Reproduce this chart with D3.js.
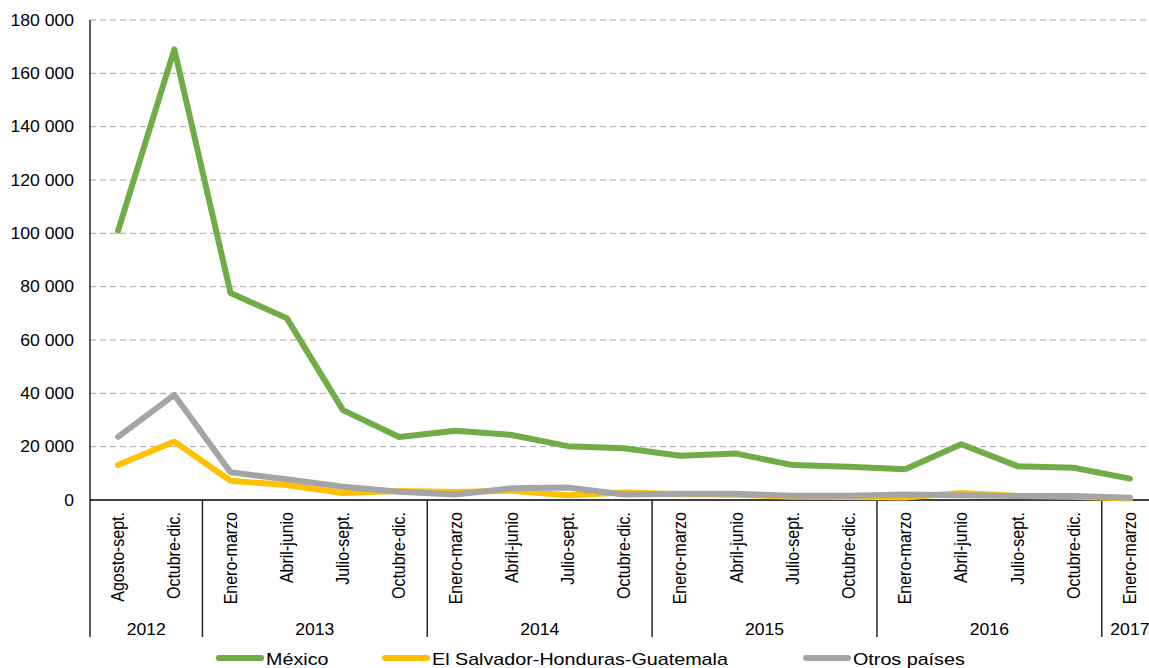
<!DOCTYPE html>
<html>
<head>
<meta charset="utf-8">
<script src="https://cdn.jsdelivr.net/npm/d3@7"></script>
<style>
  body { margin: 0; background: #fff; }
  text { font-family: "Liberation Sans", Arial, sans-serif; fill: #000; }
</style>
</head>
<body>
<svg id="chart" width="1149" height="668"></svg>
<script>
// Quarters and the year each belongs to
var quarters = ["Agosto-sept.", "Octubre-dic.",
  "Enero-marzo", "Abril-junio", "Julio-sept.", "Octubre-dic.",
  "Enero-marzo", "Abril-junio", "Julio-sept.", "Octubre-dic.",
  "Enero-marzo", "Abril-junio", "Julio-sept.", "Octubre-dic.",
  "Enero-marzo", "Abril-junio", "Julio-sept.", "Octubre-dic.",
  "Enero-marzo"];
var years = ["2012", "2013", "2014", "2015", "2016", "2017"];
var yearCounts = [2, 4, 4, 4, 4, 1];

var mexico = [101000, 169000, 77600, 68200, 33700, 23600, 26000, 24400, 20200, 19400,
  16600, 17400, 13100, 12500, 11500, 20900, 12700, 12100, 8000];
var salvador = [13100, 21900, 7200, 5600, 2600, 3400, 3000, 3500, 1800, 2800,
  2200, 2000, 1200, 1100, 900, 2600, 1500, 1200, 600];
var otros = [23700, 39400, 10400, 7800, 5000, 3100, 2100, 4400, 4700, 2100,
  2300, 2300, 1600, 1600, 2100, 1800, 1500, 1500, 800];

var seriesNames = ["México", "El Salvador-Honduras-Guatemala", "Otros países"];
var seriesColors = ["#70AD47", "#FFC000", "#A5A5A5"];
var yTicks = d3.range(0, 180001, 20000);

var svg = d3.select("#chart");
var mLeft = 90, mRight = 1158, mTop = 20, mBottom = 500;

var x = d3.scaleBand().domain(d3.range(quarters.length)).range([mLeft, mRight]);
var y = d3.scaleLinear().domain([0, 180000]).range([mBottom, mTop]);

function fmt(v) {
    return d3.format(",")(v).replace(/,/g, " ");
}

// horizontal text, slightly widened like the original
function hText(px, py, str, size, anchor, stretch) {
    return svg.append("text")
        .attr("transform", "translate(" + px + "," + py + ") scale(" + (stretch || 1.1) + ",1)")
        .attr("text-anchor", anchor || "start")
        .style("font-size", size + "px")
        .text(str);
}

// gridlines
svg.append("g").selectAll("line")
    .data(yTicks.filter(function(d) { return d > 0; }))
    .enter().append("line")
    .attr("x1", mLeft).attr("x2", 1149)
    .attr("y1", function(d) { return y(d); })
    .attr("y2", function(d) { return y(d); })
    .attr("stroke", "#A6A6A6")
    .attr("stroke-width", 1)
    .attr("stroke-dasharray", "6,4");

// y tick labels
yTicks.forEach(function(t) {
    hText(74, y(t), fmt(t), 16, "end").attr("dy", "0.35em");
});

svg.append("line")
    .attr("x1", mLeft).attr("x2", mLeft)
    .attr("y1", mTop).attr("y2", 637)
    .attr("stroke", "#262626").attr("stroke-width", 1.5);

// x baseline
svg.append("line")
    .attr("x1", mLeft).attr("x2", 1149)
    .attr("y1", mBottom).attr("y2", mBottom)
    .attr("stroke", "#000").attr("stroke-width", 1.5);

// quarter labels
svg.append("g").selectAll("text")
    .data(quarters)
    .enter().append("text")
    .attr("transform", function(d, i) {
        return "translate(" + (x(i) + x.bandwidth() / 2) + ",512) rotate(-90) scale(1,1.1)";
    })
    .attr("text-anchor", "end")
    .attr("dy", "0.35em")
    .style("font-size", "16px")
    .text(function(d) { return d; });

// year groups
var start = 0;
years.forEach(function(yr, k) {
    var n = yearCounts[k];
    var x0 = x(start), x1 = x(start + n - 1) + x.bandwidth();
    if (k > 0) {
        svg.append("line")
            .attr("x1", x0).attr("x2", x0)
            .attr("y1", mBottom).attr("y2", 637)
            .attr("stroke", "#262626").attr("stroke-width", 1.5);
    }
    hText((x0 + x1) / 2, 635, yr, 16, "middle");
    start += n;
});

// lines
var line = d3.line()
    .x(function(d, i) { return x(i) + x.bandwidth() / 2; })
    .y(function(d) { return y(d); });

[mexico, salvador, otros].forEach(function(s, k) {
    svg.append("path")
        .datum(s)
        .attr("d", line)
        .attr("fill", "none")
        .attr("stroke", seriesColors[k])
        .attr("stroke-width", 6)
        .attr("stroke-linejoin", "round")
        .attr("stroke-linecap", "round");
});

// legend
var legendX = [219, 385, 806];
seriesNames.forEach(function(name, k) {
    svg.append("line")
        .attr("x1", legendX[k]).attr("x2", legendX[k] + 42)
        .attr("y1", 658).attr("y2", 658)
        .attr("stroke", seriesColors[k])
        .attr("stroke-width", 6)
        .attr("stroke-linecap", "round");
    hText(legendX[k] + 47, 665, name, 17, "start", 1.16);
});
</script>
</body>
</html>
